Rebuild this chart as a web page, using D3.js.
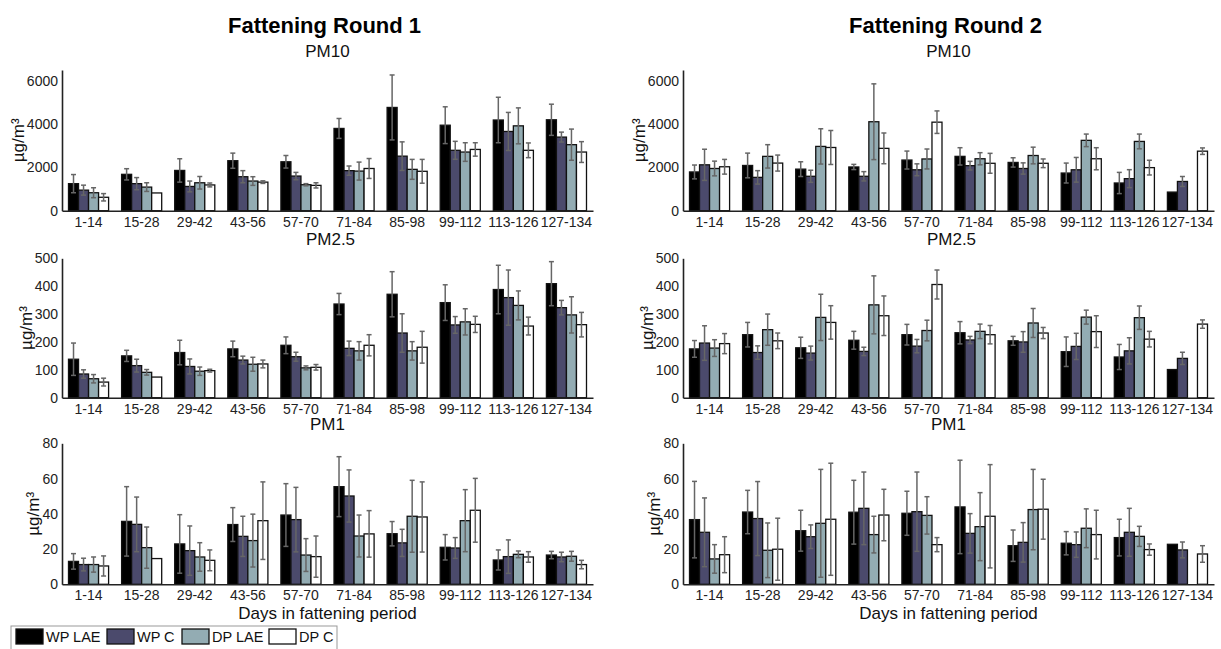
<!DOCTYPE html>
<html lang="en">
<head>
<meta charset="UTF-8">
<title>Fattening rounds PM</title>
<style>
  body { margin: 0; background: #fff; }
  svg { font-family: "Liberation Sans", Arial, sans-serif; }
</style>
</head>
<body>
<script src="https://cdn.jsdelivr.net/npm/d3@7"></script>
<script>
var categories = ["1-14", "15-28", "29-42", "43-56", "57-70", "71-84", "85-98", "99-112", "113-126", "127-134"];
var series = ["WP LAE", "WP C", "DP LAE", "DP C"];
var colors = ["#000000", "#4b4a6c", "#93acb3", "#ffffff"];
var rounds = ["Fattening Round 1", "Fattening Round 2"];
var pollutants = ["PM10", "PM2.5", "PM1"];
var yMax = [6500, 500, 80];
var yTicks = [[0, 2000, 4000, 6000], [0, 100, 200, 300, 400, 500], [0, 20, 40, 60, 80]];

// round 1 - one row per series
var r1Pm10 = [
  [1250, 1680, 1860, 2310, 2260, 3800, 4770, 3950, 4190, 4200],
  [950, 1250, 1120, 1570, 1600, 1850, 2520, 2790, 3660, 3400],
  [830, 1090, 1290, 1370, 1200, 1830, 1910, 2710, 3920, 3050],
  [620, 820, 1190, 1320, 1170, 1950, 1820, 2830, 2790, 2710]
];
var r1Pm10Err = [
  [420, 260, 540, 350, 290, 460, 1500, 850, 1050, 720],
  [230, 280, 250, 280, 170, 215, 660, 415, 880, 230],
  [230, 200, 290, 200, 50, 415, 460, 430, 830, 720],
  [170, 0, 90, 60, 120, 460, 550, 310, 340, 480]
];
var r1Pm25 = [
  [138, 150, 162, 175, 188, 336, 371, 341, 388, 409],
  [85, 115, 112, 135, 147, 177, 232, 261, 359, 323],
  [68, 91, 95, 120, 107, 168, 168, 272, 331, 297],
  [56, 74, 97, 121, 109, 188, 181, 263, 257, 262]
];
var r1Pm25Err = [
  [58, 20, 44, 28, 30, 38, 81, 64, 87, 79],
  [15, 23, 27, 14, 16, 26, 69, 30, 99, 26],
  [15, 10, 15, 25, 7, 33, 33, 47, 52, 65],
  [14, 0, 5, 14, 10, 38, 57, 29, 32, 44]
];
var r1Pm1 = [
  [13, 35.7, 22.9, 33.9, 39.3, 55.4, 28.7, 21, 13.8, 16.6],
  [11.2, 34, 19.1, 27.2, 36.7, 50.1, 23.5, 20.6, 15.7, 15.5],
  [11.2, 20.8, 15.5, 24.8, 16.6, 27.4, 38.6, 36.1, 17, 15.9],
  [10.4, 14.6, 13.6, 36.1, 15.7, 28.6, 38.2, 42, 15.5, 11.2]
];
var r1Pm1Err = [
  [4.4, 19.7, 16.6, 9.6, 17.8, 17, 6.9, 7.2, 5.7, 2.1],
  [3.6, 15.5, 14, 11.4, 18.3, 14.8, 7.7, 5.9, 9.5, 2.7],
  [4.3, 11.7, 8.1, 15, 9.3, 11.9, 20.4, 17.6, 1.9, 2.8],
  [5.7, 0, 5.9, 22, 11.7, 13.2, 19.9, 18.1, 3, 2.4]
];

// round 2 (no DP LAE value for 127-134)
var r2Pm10 = [
  [1790, 2090, 1920, 2020, 2340, 2510, 2230, 1740, 1280, 860],
  [2120, 1540, 1590, 1590, 1890, 2080, 1950, 1890, 1480, 1350],
  [1950, 2510, 2970, 4110, 2390, 2400, 2550, 3250, 3200, null],
  [2030, 2200, 2920, 2880, 4090, 2190, 2190, 2400, 1990, 2750]
];
var r2Pm10Err = [
  [320, 570, 340, 120, 415, 400, 215, 460, 490, 0],
  [720, 310, 280, 215, 275, 200, 260, 570, 415, 230],
  [340, 540, 815, 1750, 460, 280, 385, 290, 340, null],
  [340, 370, 785, 710, 520, 460, 200, 510, 340, 150]
];
var r2Pm25 = [
  [175, 226, 179, 206, 226, 233, 204, 165, 146, 101],
  [196, 162, 160, 166, 185, 207, 200, 184, 168, 141],
  [178, 244, 288, 333, 241, 238, 268, 289, 287, null],
  [194, 204, 270, 294, 406, 226, 232, 237, 210, 264]
];
var r2Pm25Err = [
  [30, 44, 38, 32, 37, 40, 16, 53, 45, 0],
  [62, 24, 25, 15, 24, 13, 37, 47, 47, 22],
  [30, 56, 83, 104, 37, 26, 52, 25, 42, null],
  [36, 28, 60, 71, 52, 33, 20, 57, 28, 15]
];
var r2Pm1 = [
  [36.7, 41, 30.4, 40.9, 40.3, 43.9, 21.9, 23.3, 26.5, 22.7],
  [29.5, 37.3, 27, 43.1, 41.2, 28.9, 23.8, 22.5, 29.5, 19.5],
  [14.4, 19.3, 34.6, 28.2, 39.1, 32.7, 42.4, 31.8, 27.2, null],
  [16.8, 19.9, 36.9, 39.3, 22.5, 38.6, 42.6, 28.2, 19.7, 17.2]
];
var r2Pm1Err = [
  [21.7, 12.3, 11.6, 18.1, 12.5, 26.5, 8.9, 6.6, 10.4, 0],
  [19.5, 21, 6.7, 20.6, 22.5, 11.2, 11.2, 7.2, 13.6, 4.5],
  [8.1, 15.5, 30.6, 10.4, 10.6, 19.3, 22.8, 11, 5.7, null],
  [10.2, 17.6, 31.8, 14.6, 4, 29.3, 17, 13.8, 3.2, 4.7]
];

var means = [[r1Pm10, r1Pm25, r1Pm1], [r2Pm10, r2Pm25, r2Pm1]];
var errs = [[r1Pm10Err, r1Pm25Err, r1Pm1Err], [r2Pm10Err, r2Pm25Err, r2Pm1Err]];

var W = 1221, H = 649;
var colX = [62, 683], plotW = 531;
var rowTop = [70, 258.3, 443.3], rowBase = [210.7, 397.7, 584.3];
var yLabOff = [44, 36, 29];

var svg = d3.select("body").append("svg").attr("width", W).attr("height", H);

var x0 = d3.scaleBand().domain(categories).range([0, plotW]).paddingInner(0.245).paddingOuter(0.1225);
var x1 = d3.scaleBand().domain(series).range([0, x0.bandwidth()]);

rounds.forEach(function(title, c) {
  svg.append("text")
    .attr("x", colX[c] + plotW / 2 - 3).attr("y", 33)
    .attr("text-anchor", "middle").attr("font-size", "22px").attr("font-weight", "bold")
    .text(title);

  pollutants.forEach(function(pm, r) {
    var y = d3.scaleLinear().domain([0, yMax[r]]).range([rowBase[r], rowTop[r]]);
    var g = svg.append("g").attr("transform", "translate(" + colX[c] + ",0)");

    g.append("text")
      .attr("x", plotW / 2 + (r == 1 ? 3 : 0)).attr("y", rowTop[r] - 13)
      .attr("text-anchor", "middle").attr("font-size", "17px").attr("fill", "#111")
      .text(pm);

    // y axis, no tick marks
    var ya = g.append("g").call(d3.axisLeft(y).tickValues(yTicks[r]).tickFormat(d3.format("d"))
      .tickSize(0).tickPadding(4));
    ya.select(".domain").attr("stroke", "#222").attr("stroke-width", 1.6);
    ya.selectAll("text").attr("font-size", "14px").attr("fill", "#222")
      .attr("font-family", "Liberation Sans, Arial, sans-serif");

    g.append("text")
      .attr("transform", "translate(" + (-yLabOff[r]) + "," + ((rowTop[r] + rowBase[r]) / 2) + ") rotate(-90)")
      .attr("text-anchor", "middle").attr("dy", "0.35em").attr("font-size", "17px").attr("fill", "#111")
      .text("µg/m³");

    var data = [];
    categories.forEach(function(cat, i) {
      series.forEach(function(s, j) {
        var v = means[c][r][j][i];
        if (v != null) data.push({cat: cat, s: s, j: j, v: v, e: errs[c][r][j][i]});
      });
    });

    g.selectAll("rect.bar").data(data).enter().append("rect")
      .attr("class", "bar")
      .attr("x", function(d) { return x0(d.cat) + x1(d.s); })
      .attr("y", function(d) { return y(d.v); })
      .attr("width", x1.bandwidth())
      .attr("height", function(d) { return y(0) - y(d.v); })
      .attr("fill", function(d) { return colors[d.j]; })
      .attr("stroke", "#111").attr("stroke-width", 1.3);

    var eb = g.selectAll("g.err").data(data.filter(function(d) { return d.e > 0; })).enter()
      .append("g").attr("class", "err")
      .attr("stroke", "#666").attr("stroke-width", 1.5);
    var cx = function(d) { return x0(d.cat) + x1(d.s) + x1.bandwidth() / 2; };
    eb.append("line")
      .attr("x1", cx).attr("x2", cx)
      .attr("y1", function(d) { return y(Math.max(0, d.v - d.e)); })
      .attr("y2", function(d) { return y(d.v + d.e); });
    eb.append("line")
      .attr("x1", function(d) { return cx(d) - 2.5; }).attr("x2", function(d) { return cx(d) + 2.5; })
      .attr("y1", function(d) { return y(d.v + d.e); }).attr("y2", function(d) { return y(d.v + d.e); });
    eb.append("line")
      .attr("x1", function(d) { return cx(d) - 2.5; }).attr("x2", function(d) { return cx(d) + 2.5; })
      .attr("y1", function(d) { return y(Math.max(0, d.v - d.e)); }).attr("y2", function(d) { return y(Math.max(0, d.v - d.e)); });

    // x axis
    var xa = g.append("g").attr("transform", "translate(0," + rowBase[r] + ")")
      .call(d3.axisBottom(x0).tickSize(0).tickPadding(6).tickSizeOuter(0));
    xa.select(".domain").attr("stroke", "#222").attr("stroke-width", 1.6);
    xa.selectAll("text").attr("font-size", "14px").attr("fill", "#222")
      .attr("font-family", "Liberation Sans, Arial, sans-serif");
  });

  svg.append("text")
    .attr("x", colX[c] + plotW / 2).attr("y", 619)
    .attr("text-anchor", "middle").attr("font-size", "17px").attr("fill", "#111")
    .text("Days in fattening period");
});

// legend
var lg = svg.append("g");
lg.append("rect").attr("x", 11).attr("y", 626).attr("width", 326).attr("height", 26)
  .attr("fill", "#fff").attr("stroke", "#999").attr("stroke-width", 1);
var legX = [16, 107, 182, 269];
series.forEach(function(s, j) {
  lg.append("rect").attr("x", legX[j]).attr("y", 629).attr("width", 27).attr("height", 15)
    .attr("fill", colors[j]).attr("stroke", "#111").attr("stroke-width", 1.3);
  lg.append("text").attr("x", legX[j] + 30).attr("y", 642)
    .attr("font-size", "14.5px").attr("fill", "#111").text(s);
});
</script>
</body>
</html>
